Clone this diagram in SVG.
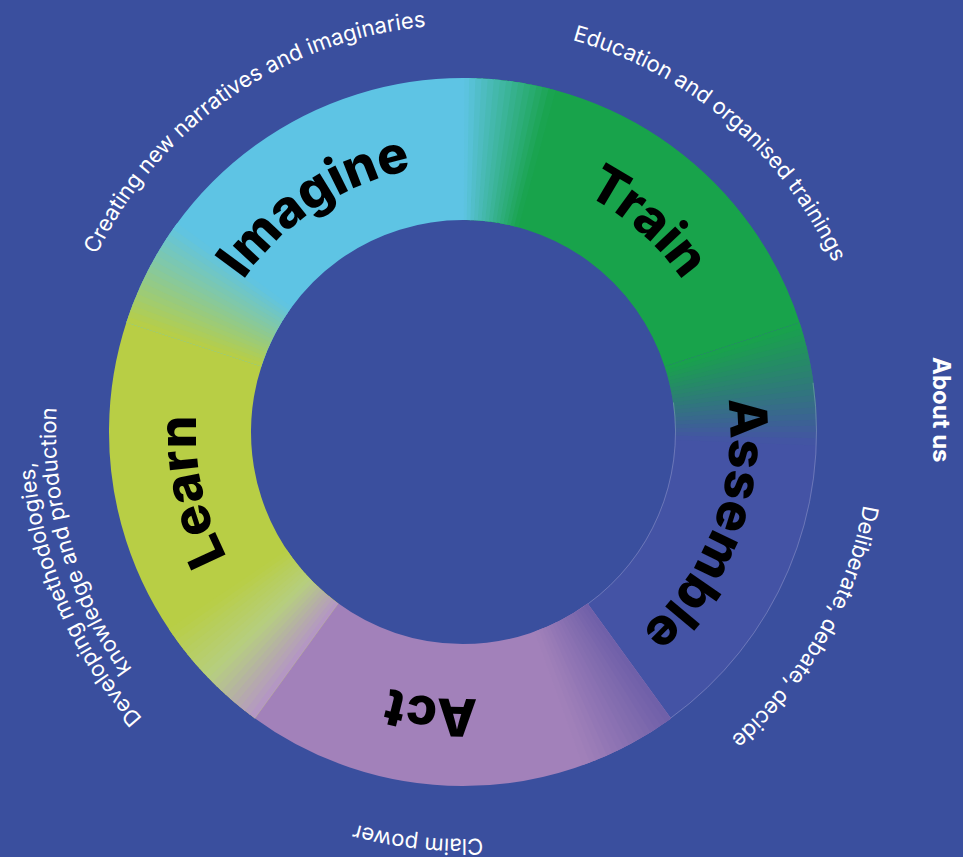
<svg xmlns="http://www.w3.org/2000/svg" width="963" height="857" viewBox="0 0 963 857">
<style>
.ring{fill:none;stroke-width:142}
.seg{stroke-dasharray:356.5 2000}
.sl{stroke-dasharray:5.93 2000}
.lbl{font-family:Inter,"Liberation Sans",sans-serif;font-weight:800;font-size:52px;fill:#000;text-anchor:middle}
.desc{font-family:Inter,"Liberation Sans",sans-serif;font-weight:400;font-size:22px;fill:#fff;text-anchor:middle}
.edge{fill:none;stroke:#fff;stroke-opacity:.25;stroke-width:.8}
</style>
<defs>
<circle id="c" cx="463" cy="432" r="283"/>
<path id="p267" d="M730,432 A267,267 0 0 1 196,432 A267,267 0 0 1 730,432 A267,267 0 0 1 196,432 A267,267 0 0 1 730,432"/>
<path id="p407" d="M870,432 A407,407 0 0 1 56,432 A407,407 0 0 1 870,432 A407,407 0 0 1 56,432 A407,407 0 0 1 870,432"/>
<path id="p430" d="M893,432 A430,430 0 0 1 33,432 A430,430 0 0 1 893,432 A430,430 0 0 1 33,432 A430,430 0 0 1 893,432"/>
</defs>
<rect width="963" height="857" fill="#3A4F9E"/>
<g id="connectors"/>
<g id="train">
<use href="#c" class="ring seg" stroke="#18A34B" transform="rotate(270 463 432)"/>
<g class="ring sl">
<use href="#c" stroke="#5CC3DF" transform="rotate(270 463 432)"/>
<use href="#c" stroke="#57C1D5" transform="rotate(271 463 432)"/>
<use href="#c" stroke="#52BECA" transform="rotate(272 463 432)"/>
<use href="#c" stroke="#4EBCC0" transform="rotate(273 463 432)"/>
<use href="#c" stroke="#49BAB6" transform="rotate(274 463 432)"/>
<use href="#c" stroke="#44B8AC" transform="rotate(275 463 432)"/>
<use href="#c" stroke="#40B6A2" transform="rotate(276 463 432)"/>
<use href="#c" stroke="#3BB498" transform="rotate(277 463 432)"/>
<use href="#c" stroke="#36B18D" transform="rotate(278 463 432)"/>
<use href="#c" stroke="#32AF83" transform="rotate(279 463 432)"/>
<use href="#c" stroke="#2DAD79" transform="rotate(280 463 432)"/>
<use href="#c" stroke="#28AB6F" transform="rotate(281 463 432)"/>
<use href="#c" stroke="#24A864" transform="rotate(282 463 432)"/>
<use href="#c" stroke="#1FA65A" transform="rotate(283 463 432)"/>
<use href="#c" stroke="#1AA450" transform="rotate(284 463 432)"/>
</g>
<text class="lbl"><textPath href="#p267" startOffset="43.236%">Train</textPath></text>
<text class="desc"><textPath href="#p407" startOffset="43.125%">Education and organised trainings</textPath></text>
</g>
<g id="assemble">
<use href="#c" class="ring seg" stroke="#4453A5" transform="rotate(342 463 432)"/>
<g class="ring sl">
<use href="#c" stroke="#19A14D" transform="rotate(342 463 432)"/>
<use href="#c" stroke="#1B9D52" transform="rotate(343 463 432)"/>
<use href="#c" stroke="#1E9956" transform="rotate(344 463 432)"/>
<use href="#c" stroke="#20955B" transform="rotate(345 463 432)"/>
<use href="#c" stroke="#22915F" transform="rotate(346 463 432)"/>
<use href="#c" stroke="#248D64" transform="rotate(347 463 432)"/>
<use href="#c" stroke="#268968" transform="rotate(348 463 432)"/>
<use href="#c" stroke="#29856D" transform="rotate(349 463 432)"/>
<use href="#c" stroke="#2B8171" transform="rotate(350 463 432)"/>
<use href="#c" stroke="#2D7D76" transform="rotate(351 463 432)"/>
<use href="#c" stroke="#2F797A" transform="rotate(352 463 432)"/>
<use href="#c" stroke="#31757F" transform="rotate(353 463 432)"/>
<use href="#c" stroke="#347183" transform="rotate(354 463 432)"/>
<use href="#c" stroke="#366D88" transform="rotate(355 463 432)"/>
<use href="#c" stroke="#38698C" transform="rotate(356 463 432)"/>
<use href="#c" stroke="#3A6591" transform="rotate(357 463 432)"/>
<use href="#c" stroke="#3C6195" transform="rotate(358 463 432)"/>
<use href="#c" stroke="#3F5D9A" transform="rotate(359 463 432)"/>
<use href="#c" stroke="#41599E" transform="rotate(360 463 432)"/>
<use href="#c" stroke="#4355A3" transform="rotate(361 463 432)"/>
</g>
<circle class="edge" cx="463" cy="432" r="212.5" stroke-dasharray="229.9 2000" transform="rotate(352 463 432)"/>
<circle class="edge" cx="463" cy="432" r="353.5" stroke-dasharray="382.5 3000" transform="rotate(352 463 432)"/>
<text class="lbl"><textPath href="#p267" startOffset="52.847%">Assemble</textPath></text>
<text class="desc"><textPath href="#p407" startOffset="54.111%">Deliberate, debate, decide</textPath></text>
</g>
<g id="act">
<use href="#c" class="ring seg" stroke="#A281BA" transform="rotate(54 463 432)"/>
<g class="ring sl">
<use href="#c" stroke="#7060A9" transform="rotate(54 463 432)"/>
<use href="#c" stroke="#7362AA" transform="rotate(55 463 432)"/>
<use href="#c" stroke="#7664AB" transform="rotate(56 463 432)"/>
<use href="#c" stroke="#7966AC" transform="rotate(57 463 432)"/>
<use href="#c" stroke="#7D69AD" transform="rotate(58 463 432)"/>
<use href="#c" stroke="#806BAE" transform="rotate(59 463 432)"/>
<use href="#c" stroke="#836DAF" transform="rotate(60 463 432)"/>
<use href="#c" stroke="#866FB0" transform="rotate(61 463 432)"/>
<use href="#c" stroke="#8A71B2" transform="rotate(62 463 432)"/>
<use href="#c" stroke="#8D73B3" transform="rotate(63 463 432)"/>
<use href="#c" stroke="#9075B4" transform="rotate(64 463 432)"/>
<use href="#c" stroke="#9377B5" transform="rotate(65 463 432)"/>
<use href="#c" stroke="#977AB6" transform="rotate(66 463 432)"/>
<use href="#c" stroke="#9A7CB7" transform="rotate(67 463 432)"/>
<use href="#c" stroke="#9D7EB8" transform="rotate(68 463 432)"/>
<use href="#c" stroke="#A080B9" transform="rotate(69 463 432)"/>
</g>
<text class="lbl"><textPath href="#p267" startOffset="63.403%">Act</textPath></text>
<text class="desc"><textPath href="#p407" startOffset="63.375%">Claim power</textPath></text>
</g>
<g id="learn">
<use href="#c" class="ring seg" stroke="#B8CE45" transform="rotate(126 463 432)"/>
<g class="ring sl">
<use href="#c" stroke="#B497C3" transform="rotate(126 463 432)"/>
<use href="#c" stroke="#B49DBC" transform="rotate(127 463 432)"/>
<use href="#c" stroke="#B5A3B5" transform="rotate(128 463 432)"/>
<use href="#c" stroke="#B5A8AE" transform="rotate(129 463 432)"/>
<use href="#c" stroke="#B5AEA7" transform="rotate(130 463 432)"/>
<use href="#c" stroke="#B5B4A0" transform="rotate(131 463 432)"/>
<use href="#c" stroke="#B5BA99" transform="rotate(132 463 432)"/>
<use href="#c" stroke="#B6C092" transform="rotate(133 463 432)"/>
<use href="#c" stroke="#B6C58B" transform="rotate(134 463 432)"/>
<use href="#c" stroke="#B6CB84" transform="rotate(135 463 432)"/>
<use href="#c" stroke="#B6CE7D" transform="rotate(136 463 432)"/>
<use href="#c" stroke="#B6CE77" transform="rotate(137 463 432)"/>
<use href="#c" stroke="#B7CE71" transform="rotate(138 463 432)"/>
<use href="#c" stroke="#B7CE6B" transform="rotate(139 463 432)"/>
<use href="#c" stroke="#B7CE65" transform="rotate(140 463 432)"/>
<use href="#c" stroke="#B7CE60" transform="rotate(141 463 432)"/>
<use href="#c" stroke="#B7CE5A" transform="rotate(142 463 432)"/>
<use href="#c" stroke="#B8CE54" transform="rotate(143 463 432)"/>
<use href="#c" stroke="#B8CE4E" transform="rotate(144 463 432)"/>
<use href="#c" stroke="#B8CE48" transform="rotate(145 463 432)"/>
</g>
<text class="lbl"><textPath href="#p267" startOffset="73.306%">Learn</textPath></text>
<text class="desc"><textPath href="#p430" startOffset="71.819%">Developing methodologies,</textPath></text>
<text class="desc"><textPath href="#p407" startOffset="72.764%">knowledge and production</textPath></text>
</g>
<g id="imagine">
<use href="#c" class="ring seg" stroke="#5EC4E4" transform="rotate(198 463 432)"/>
<g class="ring sl">
<use href="#c" stroke="#B6CE49" transform="rotate(198 463 432)"/>
<use href="#c" stroke="#B1CD52" transform="rotate(199 463 432)"/>
<use href="#c" stroke="#ACCD5B" transform="rotate(200 463 432)"/>
<use href="#c" stroke="#A7CC64" transform="rotate(201 463 432)"/>
<use href="#c" stroke="#A2CC6D" transform="rotate(202 463 432)"/>
<use href="#c" stroke="#9DCB76" transform="rotate(203 463 432)"/>
<use href="#c" stroke="#98CA7E" transform="rotate(204 463 432)"/>
<use href="#c" stroke="#93CA87" transform="rotate(205 463 432)"/>
<use href="#c" stroke="#8EC990" transform="rotate(206 463 432)"/>
<use href="#c" stroke="#89C999" transform="rotate(207 463 432)"/>
<use href="#c" stroke="#84C8A2" transform="rotate(208 463 432)"/>
<use href="#c" stroke="#7FC8AB" transform="rotate(209 463 432)"/>
<use href="#c" stroke="#7AC7B3" transform="rotate(210 463 432)"/>
<use href="#c" stroke="#75C7BC" transform="rotate(211 463 432)"/>
<use href="#c" stroke="#70C6C5" transform="rotate(212 463 432)"/>
<use href="#c" stroke="#6BC5CE" transform="rotate(213 463 432)"/>
<use href="#c" stroke="#66C5D7" transform="rotate(214 463 432)"/>
<use href="#c" stroke="#61C4E0" transform="rotate(215 463 432)"/>
</g>
<text class="lbl"><textPath href="#p267" startOffset="32.889%">Imagine</textPath></text>
<text class="desc"><textPath href="#p407" startOffset="32.681%">Creating new narratives and imaginaries</textPath></text>
</g>
<g id="about-us">
<text x="933" y="357" transform="rotate(90 933 357)" font-family="Inter, 'Liberation Sans', sans-serif" font-weight="700" font-size="24" fill="#fff">About us</text>
</g>
</svg>
